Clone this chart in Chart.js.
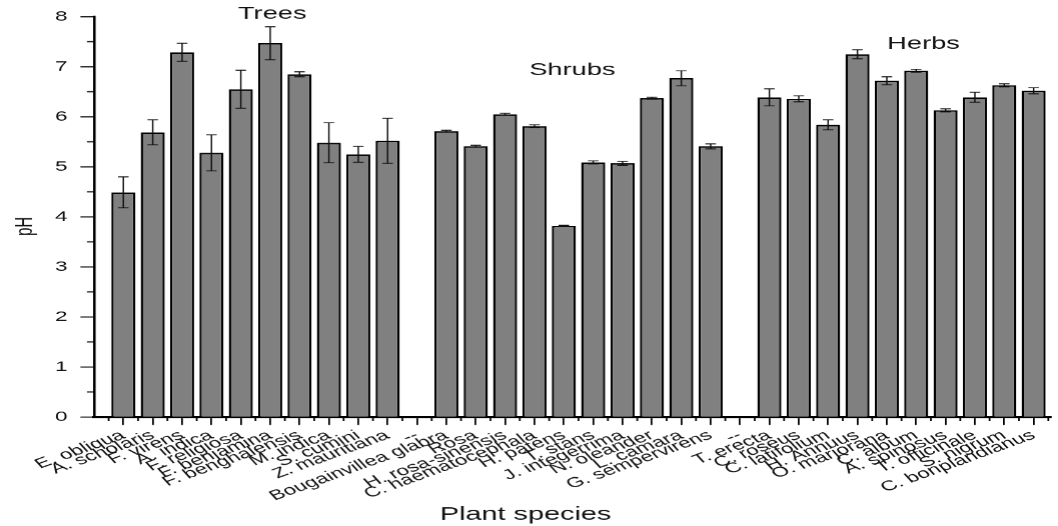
<!DOCTYPE html>
<html>
<head>
<meta charset="utf-8">
<title>pH of plant species</title>
<script src="https://cdn.jsdelivr.net/npm/chart.js@4.4.0/dist/chart.umd.min.js"></script>
<style>
    html, body { margin: 0; padding: 0; background: #fff; overflow: hidden; }
    /* the source figure is stretched sideways, so the canvas is too */
    #wrap { position: absolute; left: 0; top: 0; width: 661px; height: 526px;
            transform: scaleX(1.6006); transform-origin: 0 0; }
</style>
</head>
<body>
<div id="wrap"><canvas id="ph-chart" width="661" height="526"></canvas></div>
<script>
    "use strict";

    var treeLabels = ['E. obliqua', 'A. scholaris', 'F. virens', 'A. indica', 'F. religiosa',
        'F. benjamina', 'F. benghalensis', 'M. indica', 'S. cumini', 'Z. mauritiana'];
    var treeValues = [4.49, 5.69, 7.29, 5.28, 6.55, 7.47, 6.85, 5.48, 5.25, 5.52];
    var treeErrors = [0.31, 0.25, 0.18, 0.36, 0.38, 0.33, 0.05, 0.40, 0.16, 0.45];

    var shrubLabels = ['Bougainvillea glabra', 'Rosa', 'H. rosa-sinensis', 'C. haematocephala', 'H. patens',
        'T. stans', 'J. integerrima', 'N. oleander', 'L. camara', 'G. sempervirens'];
    var shrubValues = [5.71, 5.41, 6.05, 5.81, 3.82, 5.09, 5.07, 6.37, 6.77, 5.41];
    var shrubErrors = [0.02, 0.02, 0.02, 0.03, 0.01, 0.03, 0.04, 0.02, 0.15, 0.05];

    var herbLabels = ['T. erecta', 'C. roseus', 'C. latifolium', 'H. Annuus', 'O. marjorana',
        'C. album', 'A. spinosus', 'T. officinale', 'S. nigrum', 'C. bonplandianus'];
    var herbValues = [6.39, 6.36, 5.84, 7.25, 6.72, 6.92, 6.13, 6.39, 6.63, 6.52];
    var herbErrors = [0.17, 0.06, 0.10, 0.09, 0.08, 0.03, 0.03, 0.10, 0.03, 0.06];

    var gapLabel = '--';
    var groupTitles = ['Trees', 'Shrubs', 'Herbs'];
    var yTickValues = [0, 1, 2, 3, 4, 5, 6, 7, 8];

    var labels = treeLabels.concat([gapLabel], shrubLabels, [gapLabel], herbLabels);
    var values = treeValues.concat([null], shrubValues, [null], herbValues);
    var errors = treeErrors.concat([null], shrubErrors, [null], herbErrors);

    var points = [];
    values.forEach(function (v, i) {
        if (v !== null) {
            points.push({x: i, y: v});
        }
    });

    var fontFamily = '"Liberation Sans", Arial, sans-serif';
    Chart.defaults.font.family = fontFamily;
    Chart.defaults.color = '#111';

    // error bars, centred on each bar top
    var errorBars = {
        id: 'errorBars',
        afterDatasetsDraw: function (chart) {
            var xs = chart.scales.x, ys = chart.scales.y, ctx = chart.ctx;
            ctx.save();
            ctx.strokeStyle = '#111';
            ctx.lineWidth = 0.9;
            ctx.beginPath();
            values.forEach(function (v, i) {
                if (v === null || !errors[i]) {
                    return;
                }
                var px = xs.getPixelForValue(i);
                var top = ys.getPixelForValue(v + errors[i]);
                var bot = ys.getPixelForValue(v - errors[i]);
                ctx.moveTo(px, top);
                ctx.lineTo(px, bot);
                ctx.moveTo(px - 3.3, top);
                ctx.lineTo(px + 3.3, top);
                ctx.moveTo(px - 3.3, bot);
                ctx.lineTo(px + 3.3, bot);
            });
            ctx.stroke();
            ctx.restore();
        }
    };

    // half-step minor ticks, the group names and the y title
    var groupTitleAt = [[5.07, 8.05], [15.29, 6.93], [27.25, 7.45]];
    var decorations = {
        id: 'decorations',
        afterDraw: function (chart) {
            var xs = chart.scales.x, ys = chart.scales.y, ctx = chart.ctx, area = chart.chartArea;
            ctx.save();
            ctx.strokeStyle = '#000';
            ctx.lineWidth = 1.1;
            ctx.beginPath();
            for (var i = -0.5; i < xs.max; i += 1) {
                var px = xs.getPixelForValue(i);
                ctx.moveTo(px, area.bottom);
                ctx.lineTo(px, area.bottom + 4);
            }
            for (var j = 0.5; j < ys.max; j += 1) {
                var py = ys.getPixelForValue(j);
                ctx.moveTo(area.left, py);
                ctx.lineTo(area.left - 4.4, py);
            }
            ctx.stroke();

            ctx.fillStyle = '#111';
            ctx.font = '17px ' + fontFamily;
            ctx.textAlign = 'center';
            ctx.textBaseline = 'middle';
            groupTitles.forEach(function (t, k) {
                ctx.fillText(t, xs.getPixelForValue(groupTitleAt[k][0]), ys.getPixelForValue(groupTitleAt[k][1]));
            });

            ctx.font = '15px ' + fontFamily;
            ctx.translate(area.left - 43.1, ys.getPixelForValue(3.81));
            ctx.rotate(-Math.PI / 2);
            ctx.fillText('pH', 0, 0);
            ctx.restore();
        }
    };

    var ctx = document.getElementById('ph-chart').getContext('2d');
    new Chart(ctx, {
        type: 'bar',
        data: {
            datasets: [{
                label: 'pH',
                data: points,
                backgroundColor: '#808080',
                borderColor: '#000',
                borderWidth: 1.5,
                barPercentage: 0.82,
                categoryPercentage: 1
            }]
        },
        options: {
            responsive: false,
            animation: false,
            devicePixelRatio: 1.6,
            layout: {
                padding: {top: 16.7, right: 4.6, left: 0, bottom: 0}
            },
            plugins: {
                legend: {display: false},
                tooltip: {enabled: false},
                title: {
                    display: true,
                    position: 'bottom',
                    text: 'Plant species',
                    color: '#111',
                    font: {size: 18, weight: 'normal'},
                    padding: {top: 0, bottom: 1}
                }
            },
            scales: {
                x: {
                    type: 'linear',
                    offset: false,
                    min: -1,
                    max: 31.6,
                    afterBuildTicks: function (scale) {
                        scale.ticks = labels.map(function (l, i) {
                            return {value: i};
                        });
                    },
                    afterFit: function (scale) {
                        scale.height = 86.7;
                    },
                    grid: {offset: false, drawOnChartArea: false, drawTicks: true, tickLength: 8, color: '#000', lineWidth: 1.1},
                    border: {display: true, color: '#000', width: 2},
                    ticks: {
                        autoSkip: false,
                        maxRotation: 30,
                        minRotation: 30,
                        padding: 2,
                        font: {size: 14},
                        callback: function (v) {
                            return labels[v];
                        }
                    }
                },
                y: {
                    min: 0,
                    max: 8,
                    afterBuildTicks: function (scale) {
                        scale.ticks = yTickValues.map(function (v) {
                            return {value: v};
                        });
                    },
                    afterFit: function (scale) {
                        scale.width = 58.7;
                    },
                    grid: {drawOnChartArea: false, drawTicks: true, tickLength: 8.5, color: '#000', lineWidth: 1},
                    border: {display: true, color: '#000', width: 1.6},
                    ticks: {padding: 8, font: {size: 14}}
                }
            }
        },
        plugins: [errorBars, decorations]
    });
</script>
</body>
</html>
